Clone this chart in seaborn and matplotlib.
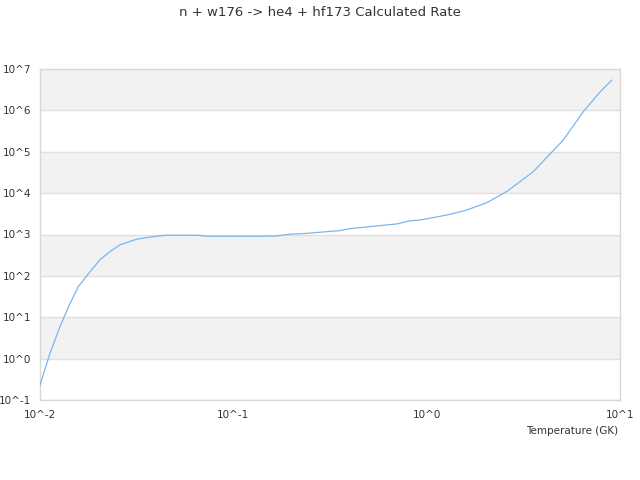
import numpy as np
import pandas as pd
import matplotlib
matplotlib.use("Agg")
import matplotlib.pyplot as plt
import seaborn as sns

# values
temperature = [0.01, 0.01127, 0.01269, 0.0142, 0.01578, 0.01815, 0.0204, 0.0230, 0.0259,
               0.0316, 0.0386, 0.0452, 0.0647, 0.0728, 0.1374, 0.164, 0.196, 0.230,
               0.356, 0.402, 0.700, 0.820, 0.925, 1.27, 1.61, 2.05, 2.60, 3.56,
               5.09, 6.47, 7.89, 9.07]
rate = [0.23, 1.36, 6.0, 20, 55, 126, 243, 386, 561,
        769, 889, 962, 962, 910, 910, 915, 1016, 1051,
        1242, 1390, 1800, 2140, 2240, 2950, 3890, 5900, 11000, 33000,
        193000, 940000, 2.8e6, 5.4e6]

x_ticks = [0.01, 0.1, 1, 10]
x_labels = ["10^-2", "10^-1", "10^0", "10^1"]
y_exps = list(range(-1, 8))

data = pd.DataFrame({"Temperature": temperature, "Rate": rate})

sns.set_style("white")
plt.rcParams["font.family"] = ["DejaVu Sans"]

fig = plt.figure(figsize=(6.4, 4.8), dpi=100)
ax = fig.add_axes([40 / 640, 1 - 400 / 480, 580 / 640, 331 / 480])

# alternating bands
for i, e in enumerate(range(6, -2, -1)):
    if i % 2 == 0:
        ax.axhspan(10.0 ** e, 10.0 ** (e + 1), color="#f2f2f2", zorder=0, lw=0)

sns.lineplot(x="Temperature", y="Rate", data=data, ax=ax, color="#7cb5ec", lw=0.9, zorder=3)

ax.set_xscale("log")
ax.set_yscale("log")
ax.set_xlim(0.01, 10)
ax.set_ylim(0.1, 1e7)

ax.set_xticks(x_ticks)
ax.set_xticklabels(x_labels)
ax.set_yticks([10.0 ** e for e in y_exps])
ax.set_yticklabels(["10^%d" % e for e in y_exps])
ax.minorticks_off()
ax.tick_params(axis="both", length=0, labelsize=7.5, colors="#333333")
ax.tick_params(axis="y", pad=6.5)
ax.tick_params(axis="x", pad=7)

ax.grid(axis="y", color="#e0e0e0", lw=1)
ax.set_axisbelow(True)
for s in ax.spines.values():
    s.set_color("#d8d8d8")
    s.set_linewidth(1)

ax.set_xlabel("Temperature (GK)", fontsize=7.5, color="#333333", ha="right")
ax.xaxis.set_label_coords(0.997, -0.08)
ax.set_ylabel("")

fig.text(0.5, 1 - 12 / 480, "n + w176 -> he4 + hf173 Calculated Rate",
         ha="center", va="center", fontsize=9.5, color="#333333")

fig.savefig("out.png", dpi=100)
